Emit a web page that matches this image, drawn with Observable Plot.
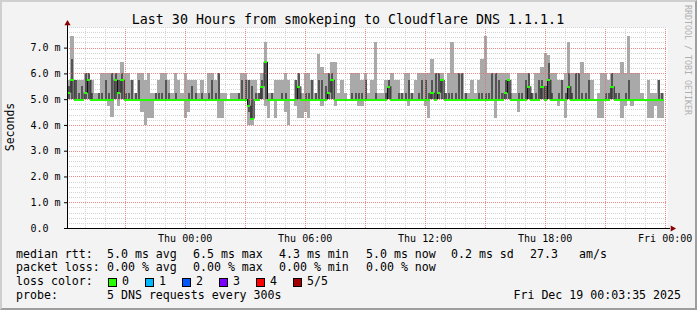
<!DOCTYPE html>
<html><head><meta charset="utf-8">
<script src="https://cdn.jsdelivr.net/npm/d3@7"></script>
<script src="https://cdn.jsdelivr.net/npm/@observablehq/plot@0.6"></script>
<style>
html,body{margin:0;padding:0;background:#fff;}
#chart{position:relative;width:697px;height:310px;background:#f3f3f3;overflow:hidden;}
#chart svg{position:absolute;left:0;top:0;}
#frame{position:absolute;left:0;top:0;width:697px;height:310px;box-sizing:border-box;border-top:2px solid #cfcfcf;border-left:2px solid #cfcfcf;border-right:2px solid #9e9e9e;border-bottom:2px solid #9e9e9e;pointer-events:none;}
</style></head>
<body><div id="chart"><div id="frame"></div></div>
<script>
const FONT = "'DejaVu Sans Mono', monospace";
const startTime = Date.UTC(2025, 11, 17, 18, 7, 0);
const endTime = Date.UTC(2025, 11, 19, 0, 7, 0);
const stepMinutes = 10;

// highest of the 5 pings (ms)
const pingMax = [
 5.75,7.45,5.75,5.75,5.75,6.0,6.0,5.75,5.25,5.25,
 6.0,6.0,6.0,6.0,6.0,6.0,6.45,6.0,6.0,5.75,
 5.25,6.0,6.0,5.75,6.0,5.25,5.25,5.75,6.0,6.0,
 5.75,5.25,6.0,5.75,5.25,6.0,5.75,5.75,5.75,5.25,
 5.75,5.25,6.0,6.0,5.75,6.0,5.25,5.25,5.0,5.25,
 5.25,5.25,6.0,6.0,5.75,5.75,5.75,5.25,6.0,7.2,
 5.25,5.25,5.75,5.75,5.75,6.0,5.75,5.0,5.75,6.0,
 5.25,6.0,6.0,5.75,5.25,6.75,6.25,6.0,6.0,6.45,
 6.45,5.25,5.75,5.25,5.0,6.0,6.0,6.0,5.75,6.0,
 5.25,5.75,7.2,5.25,5.25,5.75,5.75,6.0,5.75,5.75,
 5.25,6.0,6.0,5.25,5.75,6.0,6.0,6.0,6.0,6.55,
 6.0,6.0,6.0,5.25,6.0,7.2,6.0,6.0,6.0,5.25,
 5.25,5.75,5.25,5.75,6.55,7.45,6.0,6.0,6.0,6.0,
 6.0,6.0,6.0,5.25,5.25,6.0,6.0,6.0,6.0,5.25,
 6.0,6.0,6.25,6.8,6.7,6.0,6.0,5.75,5.75,6.0,
 7.2,6.0,6.0,6.0,6.45,6.0,6.0,5.75,5.0,5.25,
 6.0,6.0,5.75,6.0,6.0,6.0,6.45,6.0,7.45,6.0,
 6.0,6.0,5.25,5.0,5.75,5.25,5.25,5.75,5.25];

// 4th ping (top of dark smoke)
const pingUpper = [
 5.5,6.55,5.75,5.25,5.5,6.0,6.0,5.25,5.0,5.25,
 5.25,5.75,5.25,6.0,6.0,5.75,6.0,5.25,5.25,5.75,
 5.25,5.75,5.0,5.0,5.0,5.0,5.25,5.25,5.25,5.75,
 5.25,5.0,5.25,5.0,5.0,5.0,5.25,5.5,5.25,5.0,
 5.25,5.0,5.25,5.75,5.25,6.0,5.0,5.0,5.0,5.0,
 5.0,5.25,5.75,5.75,5.75,5.5,5.25,5.25,5.75,6.45,
 5.0,5.25,5.0,5.0,5.25,5.25,5.0,5.0,5.75,6.0,
 5.0,5.25,5.25,5.75,5.25,5.75,5.75,5.5,6.0,6.0,
 5.0,5.0,5.0,5.0,5.0,5.25,5.25,5.25,5.25,5.75,
 5.0,5.0,5.25,5.0,5.0,5.25,5.75,5.0,5.0,5.25,
 5.25,5.25,5.75,5.25,5.0,5.25,5.75,5.75,5.25,5.75,
 6.0,6.0,5.75,5.25,5.25,5.25,5.25,6.0,6.0,5.25,
 5.0,5.0,5.0,5.25,5.25,5.25,5.25,6.0,6.0,5.75,
 5.25,5.75,5.75,5.0,5.0,5.25,5.25,5.75,6.0,5.25,
 5.25,5.75,5.75,5.5,6.4,5.25,5.0,5.25,5.75,5.25,
 6.0,5.25,6.0,6.0,5.25,5.25,5.75,5.0,5.0,5.0,
 5.0,5.25,5.25,6.0,5.25,5.25,5.0,5.25,5.75,5.0,
 5.0,5.0,5.0,5.0,5.0,5.0,5.0,5.75,5.25];

// 2nd ping (bottom of dark smoke)
const pingLower = [
 5,5,5,5,5,5,5,5,5,5, 5,5,5,5,5,5,5,5,5,5,
 5,5,5,5,5,5,5,5,5,5, 5,5,5,5,5,5,5,5,5,5,
 5,5,5,5,5,5,5,5,5,5, 5,5,5,5,4.5,4.25,5,5,5,5,
 5,5,5,5,5,5,5,5,5,5, 5,5,5,5,5,5,5,5,5,5,
 5,5,5,5,5,5,5,5,5,5, 5,5,5,5,5,5,5,5,5,5,
 5,5,5,5,5,5,5,5,5,5, 5,5,5,5,5,5,5,5,5,5,
 5,5,5,5,5,5,5,5,5,5, 5,5,5,5,5,5,5,5,5,5,
 5,5,5,5,5,5,5,5,5,5, 5,5,5,5,5,5,5,5,5,5,
 5,5,5,5,5,5,5,5,5,5, 5,5,5,5,5,5,5,5,5];

// lowest of the 5 pings
const pingMin = [
 5,5,5,5,5,5,5,5,5,5,
 5,5,4.75,4.3,5,4.75,5,5,5,5,
 5,5,4.5,4.0,4.25,4.25,5,5,5,5,
 5,5,5,5,5,4.25,4.5,5,5,5,
 5,5,5,5,5,4.25,4.25,5,5,5,
 5,5,5,5,4.0,4.0,5,5,5,4.75,
 4.25,5,4.25,5,5,4.5,4.0,5,4.75,4.25,
 4.25,4.5,4.25,5,5,5,4.75,5,5,5,
 4.75,5,5,5,5,5,5,4.75,4.75,5,
 5,5,5,5,5,5,5,5,5,5,
 5,5,4.75,5,5,5,5,4.75,4.25,5,
 5,5,5,5,5,5,5,5,5,5,
 5,5,5,5,5,5,5,5,4.25,5,
 5,5,5,5,5,4.5,5,5,5,5,
 5,5,5,5,5,5,5,4.75,5,4.25,
 5,5,5,5,5,5,5,5,5,4.25,
 4.25,5,5,5,5,5,4.25,4.75,5,4.75,
 5,5,5,5,4.25,4.25,4.75,4.25,4.25];

// median ping
const pingMedian = [
 5.25,5.75,5,5,5,5.25,5.75,5,5,5,
 5,5,5,5,5.75,5.25,5.75,5,5,5,
 5,5,5,5,5,5,5,5,5,5,
 5,5,5,5,5,5,5,5,5,5,
 5,5,5,5,5,5,5,5,5,5,
 5,5,5,5,4.75,4.25,5,5,5.5,6.45,
 5,5,5,5,5,5,5,5,5,5.5,
 5,5,5,5,5,5,5,5,5.25,5.75,
 5,5,5,5,5,5,5,5,5,5,
 5,5,5,5,5,5,5.5,5,5,5,
 5,5,5,5,5,5,5,5,5,5.25,
 5,5.25,5.75,5,5,5,5,5,5,5,
 5,5,5,5,5,5,5,5,5,5,
 5,5.25,5.75,5,5,5,5,5,5.5,5,
 5,5,5.5,5,5.75,5,5,5,5,5,
 5.5,5,5,5,5,5,5,5,5,5,
 5,5,5,5.5,5,5,5,5,5,5,
 5,5,5,5,5,5,5,5,5];

const yTicks = [0, 1, 2, 3, 4, 5, 6, 7];
const yTickLabels = ["0.0\u00a0\u00a0", "1.0 m", "2.0 m", "3.0 m", "4.0 m", "5.0 m", "6.0 m", "7.0 m"];
const xTickTimes = [Date.UTC(2025,11,18,0), Date.UTC(2025,11,18,6), Date.UTC(2025,11,18,12), Date.UTC(2025,11,18,18), Date.UTC(2025,11,19,0)];
const xTickLabels = ["Thu 00:00", "Thu 06:00", "Thu 12:00", "Thu 18:00", "Fri 00:00"];

const lossLabels = ["0", "1", "2", "3", "4", "5/5"];
const lossColors = ["#26ff00", "#00b8ff", "#0059ff", "#7e00ff", "#ff0000", "#a10000"];

const cols = pingMax.map((hi, i) => ({
  t0: new Date(startTime + i * stepMinutes * 60000),
  t1: new Date(startTime + (i + 1) * stepMinutes * 60000),
  hi, up: pingUpper[i], dn: pingLower[i], lo: pingMin[i], med: pingMedian[i],
  prevMed: i > 0 ? pingMedian[i - 1] : pingMedian[i]
}));
const medSteps = cols.filter(d => d.med !== d.prevMed);

const hours = d3.utcHour.range(new Date(startTime), new Date(endTime));
const majorHours = hours.filter(h => h.getUTCHours() % 3 === 0);
const minorHours = hours.filter(h => h.getUTCHours() % 3 !== 0);
const yMinor = d3.range(1, 40).filter(k => k % 5 !== 0).map(k => k / 5);
const yMajor = yTicks.filter(v => v > 0);

const minorStroke = "#d2d2d2";
const majorStroke = "#e66a6a";

const plot = Plot.plot({
  width: 697, height: 310,
  marginLeft: 67, marginRight: 30, marginTop: 27, marginBottom: 82,
  style: {background: "transparent", fontFamily: FONT, fontSize: "10px", color: "#000"},
  x: {type: "utc", domain: [new Date(startTime), new Date(endTime)]},
  y: {domain: [0, 7.8]},
  marks: [
    Plot.frame({fill: "#ffffff", stroke: "none"}),
    Plot.ruleY(yMinor, {stroke: minorStroke, strokeDasharray: "1,1", shapeRendering: "crispEdges"}),
    Plot.ruleX(minorHours, {y1: 0, y2: 7.8, insetBottom: -2, stroke: minorStroke, strokeDasharray: "1,1", shapeRendering: "crispEdges"}),
    Plot.rect(cols, {x1: "t0", x2: "t1", y1: "lo", y2: "hi", fill: "#a9a9a9", shapeRendering: "crispEdges"}),
    Plot.rect(cols, {x1: "t0", x2: "t1", y1: "dn", y2: "up", insetLeft: 1, insetRight: 0.4, fill: "#555555", shapeRendering: "crispEdges"}),
    Plot.ruleY(yMajor, {stroke: majorStroke, strokeOpacity: 0.8, strokeDasharray: "1,1", shapeRendering: "crispEdges"}),
    Plot.ruleX(majorHours, {y1: 0, y2: 7.8, insetBottom: -2, stroke: majorStroke, strokeOpacity: 0.8, strokeDasharray: "1,1", shapeRendering: "crispEdges"}),
    Plot.ruleX(medSteps, {x: "t0", y1: "prevMed", y2: "med", stroke: "#111", strokeWidth: 1}),
    Plot.ruleY(cols, {y: "med", x1: "t0", x2: "t1", stroke: "#22ff00", strokeWidth: 2, shapeRendering: "crispEdges"}),
    Plot.ruleY([0], {stroke: "#000", insetLeft: -3, insetRight: -3, shapeRendering: "crispEdges"}),
    Plot.ruleX([new Date(startTime)], {stroke: "#000", insetTop: -2, shapeRendering: "crispEdges"}),
    Plot.dot([0], {frameAnchor: "top-left", dy: -4, symbol: "triangle", r: 2.3, fill: "#8b0000", stroke: "none"}),
    Plot.dot([0], {frameAnchor: "bottom-right", dx: 5, symbol: "triangle", rotate: 90, r: 2.3, fill: "#8b0000", stroke: "none"}),
    Plot.axisY({ticks: yTicks, tickFormat: d => yTickLabels[yTicks.indexOf(d)], tickSize: 3, tickPadding: 4, label: null, fontSize: 10}),
    Plot.axisX({ticks: xTickTimes.map(t => new Date(t)), tickFormat: d => xTickLabels[xTickTimes.indexOf(+d)], tickSize: 0, tickPadding: 6.5, label: null, fontSize: 10})
  ]
});

document.getElementById("chart").insertBefore(plot, document.getElementById("frame"));

const svg = d3.select(plot);
function addText(x, y, str, size, opts = {}) {
  const t = svg.append("text")
    .attr("x", x).attr("y", y)
    .attr("font-family", FONT)
    .attr("font-size", size)
    .attr("fill", opts.fill || "#000")
    .attr("text-anchor", opts.anchor || "start")
    .style("white-space", "pre")
    .text(str);
  if (opts.transform) t.attr("transform", opts.transform).attr("x", 0).attr("y", 0);
  return t;
}

addText(348, 24, "Last 30 Hours from smokeping to Cloudflare DNS 1.1.1.1", 13.3, {anchor: "middle"});
addText(0, 0, "Seconds", 11.5, {anchor: "middle", transform: "translate(14,127) rotate(-90)"});
addText(0, 0, "RRDTOOL / TOBI OETIKER", 8.3, {fill: "#b0b0b0", transform: "translate(685,5) rotate(90)"});

const LS = 11.6;
const rows = [
  {y: 257.7, items: [[16, "median rtt:"], [107, "5.0 ms avg"], [193, "6.5 ms max"], [279, "4.3 ms min"], [366, "5.0 ms now"], [451, "0.2 ms sd"], [530, "27.3"], [579, "am/s"]]},
  {y: 271.3, items: [[16, "packet loss:"], [107, "0.00 % avg"], [193, "0.00 % max"], [279, "0.00 % min"], [366, "0.00 % now"]]},
  {y: 285, items: [[16, "loss color:"]]},
  {y: 298.5, items: [[16, "probe:"], [107, "5 DNS requests every 300s"]]}
];
rows.forEach(r => r.items.forEach(([x, s]) => addText(x, r.y, s, LS)));
addText(681, 298.5, "Fri Dec 19 00:03:35 2025", LS, {anchor: "end"});

lossLabels.forEach((lab, i) => {
  const bx = 108 + i * 37.0;
  svg.append("rect").attr("x", bx + 0.5).attr("y", 278.5).attr("width", 8).attr("height", 8)
    .attr("fill", lossColors[i]).attr("stroke", "#000").attr("stroke-width", 1);
  addText(bx + 14, 285, lab, LS);
});
</script>
</body></html>
